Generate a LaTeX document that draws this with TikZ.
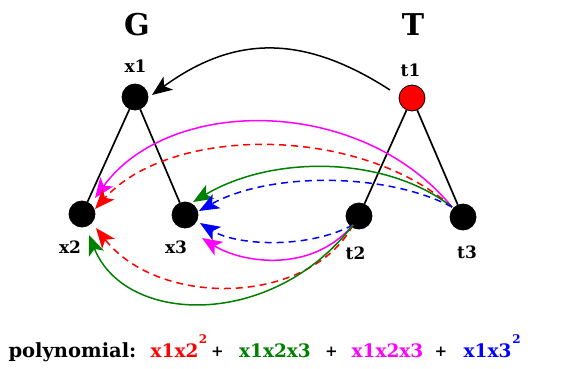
\documentclass[tikz,border=0pt]{standalone}
\usepackage{fontspec}
\setmainfont{DejaVu Serif}
\usetikzlibrary{arrows.meta,calc}
\definecolor{cred}{RGB}{255,0,0}
\definecolor{cgreen}{RGB}{0,128,0}
\definecolor{cmag}{RGB}{255,0,255}
\definecolor{cblue}{RGB}{0,0,255}
\begin{document}
\begin{tikzpicture}[x=1pt,y=-1pt,
  vtx/.style={circle,fill=black,draw=black,line width=0.8pt,minimum size=26pt,inner sep=0pt},
  lbl/.style={font=\fontsize{17}{20}\selectfont\bfseries,anchor=base,inner sep=0pt},
  ttl/.style={font=\fontsize{30}{34}\selectfont\bfseries,anchor=base,inner sep=0pt},
  polyw/.style={font=\fontsize{19.5}{22}\selectfont\bfseries,anchor=base,inner sep=0pt},
  poly/.style={font=\fontsize{18.5}{22}\selectfont\bfseries,anchor=base,inner sep=0pt},
  supx/.style={font=\fontsize{12}{14}\selectfont\bfseries,anchor=base,inner sep=0pt},
  plus/.style={font=\fontsize{15}{17}\selectfont\bfseries,anchor=base,inner sep=0pt},
  tree/.style={line width=1.7pt},
  conn/.style={line width=1.5pt,-{Stealth[length=20pt,width=16pt,inset=5pt]}},
  dsh/.style={dash pattern=on 7pt off 5pt}]
\path[use as bounding box] (0,0) rectangle (567,369);

% titles
\node[ttl] (G) at (137,35.5) {G};
\node[ttl] (T) at (413,35.5) {T};

% vertices
\node[vtx] (x1) at (135,97) {};
\node[vtx,fill=cred] (t1) at (412,98) {};
\node[vtx] (x2) at (82,214) {};
\node[vtx] (x3) at (185,215) {};
\node[vtx] (t2) at (359,216) {};
\node[vtx] (t3) at (463,217) {};

% labels
\node[lbl] (lx1) at (135.5,73) {x1};
\node[lbl] (lt1) at (410.5,76) {t1};
\node[lbl] (lx2) at (70,253) {x2};
\node[lbl] (lx3) at (176,253) {x3};
\node[lbl] (lt2) at (355.5,259) {t2};
\node[lbl] (lt3) at (467,258) {t3};

% tree edges
\draw[tree] (x1) -- (x2);
\draw[tree] (x1) -- (x3);
\draw[tree] (t1) -- (t2);
\draw[tree] (t1) -- (t3);

% t1 -> x1
\draw[conn,black] ($(t1)+(-22,-8)$) .. controls (304,34.5) and (235,34.5) .. ($(x1)+(17,-2)$);

% from t3 (upper)
\draw[conn,cmag] ($(t3)+(-11,-10)$) .. controls (360,95) and (169,96) .. ($(x2)+(13,-16)$);
\draw[conn,cred,dsh] ($(t3)+(-11,-10)$) .. controls (359,125) and (171,125) .. ($(x2)+(13,-5)$);
\draw[conn,cgreen] ($(t3)+(-11,-10)$) .. controls (385,155) and (272,155) .. ($(x3)+(8,-13)$);
\draw[conn,cblue,dsh] ($(t3)+(-11,-10)$) .. controls (386,172) and (269,172) .. ($(x3)+(14,-4)$);

% from t2 (lower)
\draw[conn,cblue,dsh] ($(t2)+(-6,9)$) .. controls (305,250) and (235,245) .. ($(x3)+(15,8)$);
\draw[conn,cmag] ($(t2)+(-6,9)$) .. controls (310,275) and (240,262) .. ($(x3)+(17,23)$);
\draw[conn,cred,dsh] ($(t2)+(-6,9)$) .. controls (310,305) and (160,309) .. ($(x2)+(14,14)$);
\draw[conn,cgreen] ($(t2)+(-6,9)$) .. controls (272,330) and (125,325) .. ($(x2)+(7,21)$);

% polynomial
\node[polyw] (pl) at (72.5,357) {polynomial:};
\node[poly,text=cred] (m1) at (174.5,357) {x1x2};
\node[supx,text=cred] (s1) at (203,343) {2};
\node[plus] (p1) at (217.5,356) {+};
\node[poly,text=cgreen] (m2) at (275,357) {x1x2x3};
\node[plus] (p2) at (331.5,356) {+};
\node[poly,text=cmag] (m3) at (387.5,357) {x1x2x3};
\node[plus] (p3) at (441,356) {+};
\node[poly,text=cblue] (m4) at (487.5,357) {x1x3};
\node[supx,text=cblue] (s4) at (516.5,343) {2};
\end{tikzpicture}
\end{document}
